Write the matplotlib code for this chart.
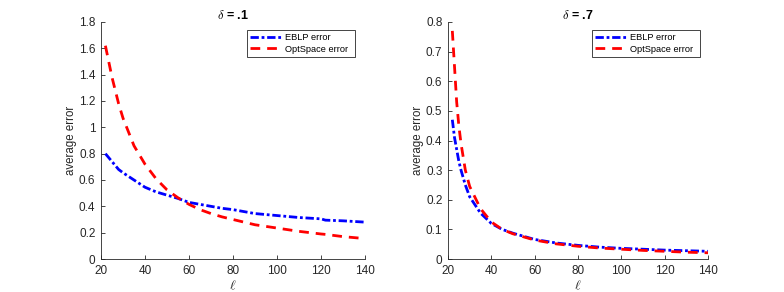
import matplotlib
matplotlib.use('Agg')
import matplotlib.pyplot as plt

plt.rcParams['font.family'] = ['Liberation Sans', 'DejaVu Sans']
plt.rcParams['mathtext.fontset'] = 'cm'

# delta = .1
ell_1 = [22, 25, 28, 30, 35, 40, 45, 50, 55, 60, 65, 70, 75, 80, 90, 100, 110, 120, 122, 130, 140]
eblp_1 = [0.80, 0.74, 0.68, 0.655, 0.60, 0.545, 0.51, 0.485, 0.46, 0.43, 0.415, 0.40, 0.385, 0.375,
          0.345, 0.33, 0.315, 0.305, 0.295, 0.29, 0.28]
opt_1 = [1.62, 1.38, 1.18, 1.07, 0.86, 0.72, 0.61, 0.525, 0.465, 0.415, 0.375, 0.345, 0.32, 0.30,
         0.26, 0.235, 0.21, 0.19, 0.187, 0.17, 0.155]

# delta = .7
ell_7 = [22, 23, 24, 25, 26, 28, 30, 35, 40, 45, 50, 60, 70, 80, 90, 100, 110, 120, 130, 140]
eblp_7 = [0.47, 0.41, 0.37, 0.33, 0.30, 0.25, 0.21, 0.155, 0.12, 0.10, 0.087, 0.066, 0.054, 0.046,
          0.040, 0.036, 0.033, 0.030, 0.028, 0.026]
opt_7 = [0.77, 0.65, 0.53, 0.45, 0.39, 0.30, 0.245, 0.17, 0.125, 0.10, 0.085, 0.064, 0.051, 0.043,
         0.037, 0.033, 0.029, 0.026, 0.023, 0.021]

panels = [
    (ell_1, eblp_1, opt_1, r'$\delta$ = .1', 1.8, [0, 0.2, 0.4, 0.6, 0.8, 1, 1.2, 1.4, 1.6, 1.8],
     ['0', '0.2', '0.4', '0.6', '0.8', '1', '1.2', '1.4', '1.6', '1.8']),
    (ell_7, eblp_7, opt_7, r'$\delta$ = .7', 0.8, [0, 0.1, 0.2, 0.3, 0.4, 0.5, 0.6, 0.7, 0.8],
     ['0', '0.1', '0.2', '0.3', '0.4', '0.5', '0.6', '0.7', '0.8']),
]

fig = plt.figure(figsize=(7.84, 2.92), dpi=100)
rects = [[101/784, 33/292, 264/784, 237/292], [448/784, 33/292, 260/784, 237/292]]
# legend box (x0, top, width) in axes fraction
leg_box = [(0.553, 0.966, 0.409), (0.554, 0.966, 0.415)]
grey = '#262626'

for rect, lb, (x, e, o, title, ymax, yt, ytl) in zip(rects, leg_box, panels):
    ax = fig.add_axes(rect)
    ax.plot(x, e, color='blue', linestyle=(0, (3, 1, 1, 1)), linewidth=2, label='EBLP error')
    ax.plot(x, o, color='red', linestyle=(0, (3.5, 2.5)), linewidth=2, label='OptSpace error')
    ax.set_xlim(20, 140)
    ax.set_ylim(0, ymax)
    ax.set_xticks([20, 40, 60, 80, 100, 120, 140])
    ax.set_yticks(yt)
    ax.set_yticklabels(ytl)
    ax.spines['top'].set_visible(False)
    ax.spines['right'].set_visible(False)
    for s in ['left', 'bottom']:
        ax.spines[s].set_color(grey)
        ax.spines[s].set_linewidth(0.6)
    ax.tick_params(direction='in', length=3, width=0.6, colors=grey, labelsize=8.5, pad=4)
    ax.set_title(title, fontsize=9, fontweight='bold', pad=2)
    ax.set_xlabel(r'$\ell$', fontsize=10, color=grey, labelpad=1)
    ax.set_ylabel('average error', fontsize=8.3, color=grey, labelpad=1.5)
    leg = ax.legend(loc='upper left', bbox_to_anchor=(lb[0], lb[1], lb[2], 0), mode='expand',
                    borderaxespad=0, fontsize=6.7, fancybox=False, edgecolor=grey, framealpha=1,
                    handlelength=3.4, handletextpad=0.3, borderpad=0.35, labelspacing=0.25)
    leg.get_frame().set_linewidth(0.6)

fig.savefig('out.png', dpi=100)
